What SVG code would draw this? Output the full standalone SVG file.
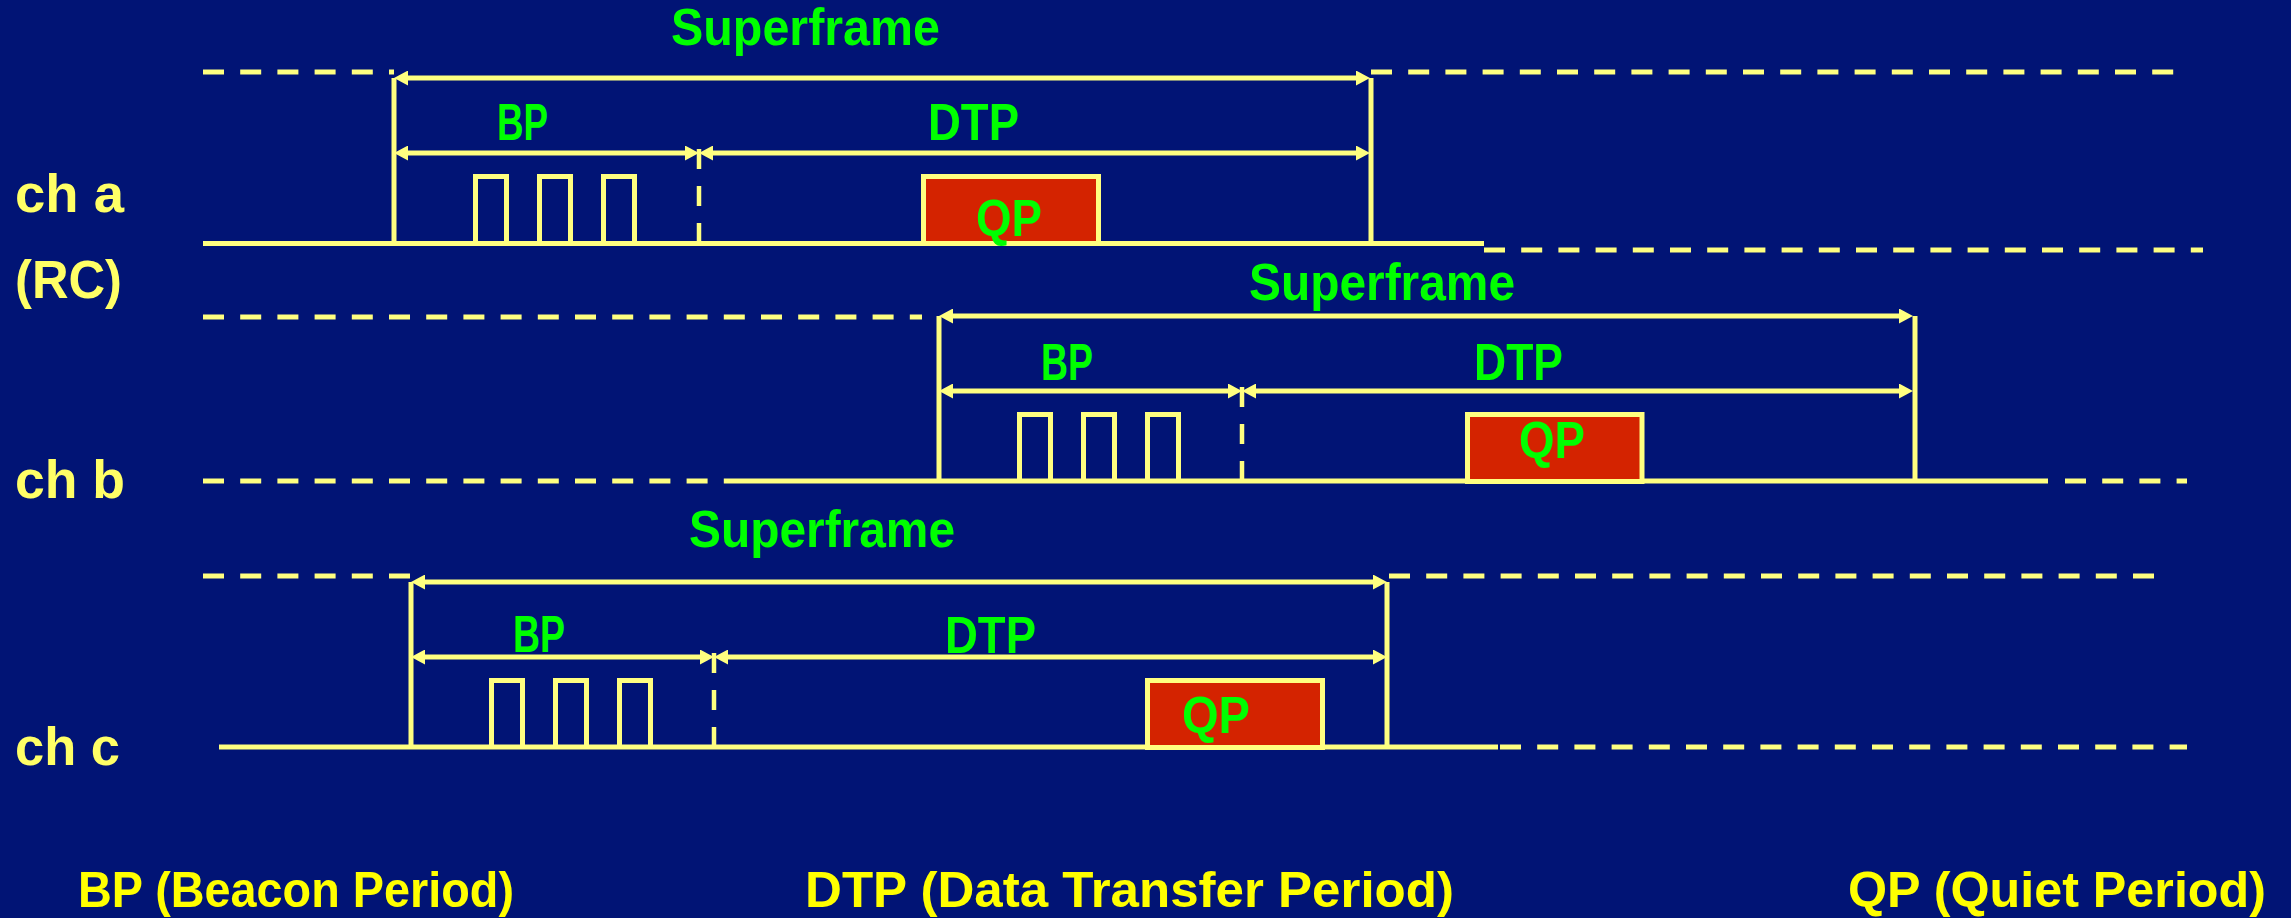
<svg xmlns="http://www.w3.org/2000/svg" width="2291" height="918" viewBox="0 0 2291 918">
  <defs>
    <marker id="ah" markerUnits="userSpaceOnUse" markerWidth="14" markerHeight="15" refX="4" refY="7.5" orient="auto-start-reverse" viewBox="0 0 14 15">
      <path d="M0,0 L14,7.5 L0,15 z" fill="#FFFF80"/>
    </marker>
    <style>
      .bg { fill: #011475; }
      .solid { stroke: #FFFF80; stroke-width: 5; fill: none; }
      .vert { stroke: #FFFF80; stroke-width: 5; fill: none; }
      .dash { stroke: #FFFF80; stroke-width: 5; fill: none; stroke-dasharray: 21 16.2; }
      .div { stroke: #FFFF80; stroke-width: 4.5; fill: none; stroke-dasharray: 20 17; }
      .arr { stroke: #FFFF80; stroke-width: 5; fill: none; marker-start: url(#ah); marker-end: url(#ah); }
      .pulse { stroke: #FFFF80; stroke-width: 5; fill: none; }
      .qp { fill: #D42300; stroke: #FFFF80; stroke-width: 5; }
      .lbl { font-family: "Liberation Sans", Arial, sans-serif; font-weight: bold; font-size: 52px; fill: #00FF00; }
      .ch { font-family: "Liberation Sans", Arial, sans-serif; font-weight: bold; font-size: 54px; fill: #FFFF66; }
      .key { font-family: "Liberation Sans", Arial, sans-serif; font-weight: bold; font-size: 50px; fill: #FFFF00; }
    </style>
  </defs>

  <rect class="bg" x="0" y="0" width="2291" height="918"/>

  <!-- channel labels -->
  <g id="label-ch-a">
    <text class="ch" x="15" y="212" textLength="109" lengthAdjust="spacingAndGlyphs">ch a</text>
    <text class="ch" x="15" y="298" textLength="107" lengthAdjust="spacingAndGlyphs">(RC)</text>
  </g>
  <g id="label-ch-b">
    <text class="ch" x="15" y="498" textLength="110" lengthAdjust="spacingAndGlyphs">ch b</text>
  </g>
  <g id="label-ch-c">
    <text class="ch" x="15" y="765" textLength="105" lengthAdjust="spacingAndGlyphs">ch c</text>
  </g>

  <!-- timelines -->
  <g id="connectors">
    <!-- channel a -->
    <path class="dash" d="M203 72 H394"/>
    <path class="dash" d="M1371 72 H2176"/>
    <path class="solid" d="M203 243.5 H1484"/>
    <path class="dash" d="M1484 250 H2203"/>
    <path class="vert" d="M394 78 V243"/>
    <path class="vert" d="M1371 78 V243"/>
    <path class="div" d="M699 243 V147"/>
    <path class="arr" d="M404 78 H1360"/>
    <path class="arr" d="M404 153 H689"/>
    <path class="arr" d="M709 153 H1360"/>

    <!-- channel b -->
    <path class="dash" d="M203 317 H922"/>
    <path class="dash" d="M203 481 H725"/>
    <path class="solid" d="M725 481 H2048"/>
    <path class="dash" d="M2065 481 H2187"/>
    <path class="vert" d="M939 316 V481"/>
    <path class="vert" d="M1915 316 V481"/>
    <path class="div" d="M1242 481 V385"/>
    <path class="arr" d="M949 316 H1903"/>
    <path class="arr" d="M949 391 H1232"/>
    <path class="arr" d="M1252 391 H1903"/>

    <!-- channel c -->
    <path class="dash" d="M203 576 H411"/>
    <path class="dash" d="M1389 576 H2155"/>
    <path class="solid" d="M219 747 H1498"/>
    <path class="dash" d="M1500 747 H2187"/>
    <path class="vert" d="M411 582 V747"/>
    <path class="vert" d="M1387 582 V747"/>
    <path class="div" d="M714 747 V651"/>
    <path class="arr" d="M421 582 H1377"/>
    <path class="arr" d="M421 657 H704"/>
    <path class="arr" d="M724 657 H1377"/>
  </g>

  <!-- channel a periods -->
  <g id="ch-a-superframe">
    <text class="lbl" x="671" y="45" textLength="269" lengthAdjust="spacingAndGlyphs">Superframe</text>
  </g>
  <g id="ch-a-bp">
    <text class="lbl" x="497" y="140" textLength="51" lengthAdjust="spacingAndGlyphs">BP</text>
    <path class="pulse" d="M475.5 243 V176.5 H506.5 V243 M539.5 243 V176.5 H570.5 V243 M603.5 243 V176.5 H634.5 V243"/>
  </g>
  <g id="ch-a-dtp">
    <text class="lbl" x="928" y="140" textLength="91" lengthAdjust="spacingAndGlyphs">DTP</text>
  </g>
  <g id="ch-a-qp">
    <rect class="qp" x="923.5" y="176.5" width="175" height="67"/>
    <text class="lbl" x="976" y="236" textLength="66" lengthAdjust="spacingAndGlyphs">QP</text>
  </g>

  <!-- channel b periods -->
  <g id="ch-b-superframe">
    <text class="lbl" x="1249" y="300" textLength="266" lengthAdjust="spacingAndGlyphs">Superframe</text>
  </g>
  <g id="ch-b-bp">
    <text class="lbl" x="1041" y="380" textLength="52" lengthAdjust="spacingAndGlyphs">BP</text>
    <path class="pulse" d="M1019.5 481 V414.5 H1050.5 V481 M1083.5 481 V414.5 H1114.5 V481 M1147.5 481 V414.5 H1178.5 V481"/>
  </g>
  <g id="ch-b-dtp">
    <text class="lbl" x="1474" y="380" textLength="89" lengthAdjust="spacingAndGlyphs">DTP</text>
  </g>
  <g id="ch-b-qp">
    <rect class="qp" x="1467.5" y="414.5" width="174.5" height="67"/>
    <text class="lbl" x="1519" y="458" textLength="66" lengthAdjust="spacingAndGlyphs">QP</text>
  </g>

  <!-- channel c periods -->
  <g id="ch-c-superframe">
    <text class="lbl" x="689" y="547" textLength="266" lengthAdjust="spacingAndGlyphs">Superframe</text>
  </g>
  <g id="ch-c-bp">
    <text class="lbl" x="513" y="652" textLength="52" lengthAdjust="spacingAndGlyphs">BP</text>
    <path class="pulse" d="M491.5 747 V680.5 H522.5 V747 M555.5 747 V680.5 H586.5 V747 M619.5 747 V680.5 H650.5 V747"/>
  </g>
  <g id="ch-c-dtp">
    <text class="lbl" x="945" y="653" textLength="91" lengthAdjust="spacingAndGlyphs">DTP</text>
  </g>
  <g id="ch-c-qp">
    <rect class="qp" x="1147.5" y="680.5" width="175" height="67"/>
    <text class="lbl" x="1182" y="733" textLength="68" lengthAdjust="spacingAndGlyphs">QP</text>
  </g>

  <!-- legend -->
  <g id="legend">
    <text class="key" x="78" y="907" textLength="436" lengthAdjust="spacingAndGlyphs">BP (Beacon Period)</text>
    <text class="key" x="805" y="907" textLength="649" lengthAdjust="spacingAndGlyphs">DTP (Data Transfer Period)</text>
    <text class="key" x="1848" y="907" textLength="418" lengthAdjust="spacingAndGlyphs">QP (Quiet Period)</text>
  </g>
</svg>
